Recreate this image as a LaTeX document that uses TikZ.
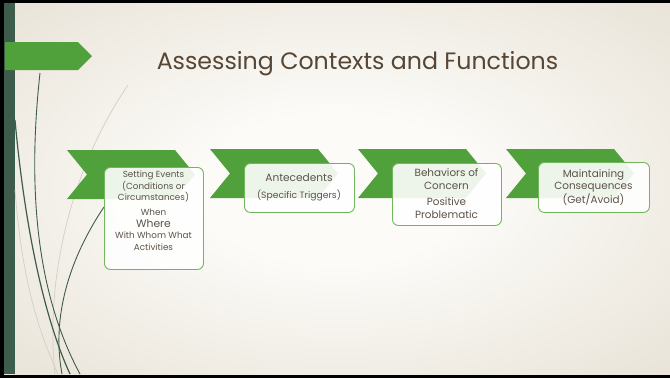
\documentclass[tikz,border=0pt]{standalone}
\usepackage{fontspec}
\setmainfont{Poppins}
\definecolor{bgout}{RGB}{222,214,198}
\definecolor{bgin}{RGB}{252,251,248}
\definecolor{barg}{RGB}{62,92,76}
\definecolor{chev}{RGB}{80,160,60}
\definecolor{boxline}{RGB}{112,182,92}
\definecolor{txt}{RGB}{92,82,72}
\definecolor{ttl}{RGB}{88,70,52}
\definecolor{faint}{RGB}{212,206,196}
\pgfdeclareradialshading{slidebg}{\pgfpoint{0bp}{0bp}}{color(0bp)=(bgin); color(10bp)=(bgin); color(50bp)=(bgout); color(72bp)=(bgout)}
\newcommand\chevronat[2]{\fill[chev] (#1,#2) -- ++(108,0) -- ++(20,24.5) -- ++(-20,24.5) -- ++(-108,0) -- ++(20,-24.5) -- cycle;}
\begin{document}
\begin{tikzpicture}[x=1pt,y=-1pt,
 card/.style={draw=boxline,line width=0.9pt,fill=white,fill opacity=0.9,rounded corners=6pt,inner sep=0pt,anchor=north west},
 cardtext/.style={text=txt,align=center,inner sep=0pt,anchor=north},
 small/.style={font=\fontsize{8.8}{11.5}\selectfont},
 big/.style={font=\fontsize{10.4}{12.4}\selectfont},
 stem/.style={draw=barg,line width=1.2pt},
 ghost/.style={draw=faint,line width=0.7pt}]
\useasboundingbox (0,0) rectangle (670,378);
\fill[black] (0,0) rectangle (670,378);
\shade[shading=slidebg] (4,3) rectangle (670,374);
\fill[barg] (4,3) rectangle (15,374);
% faint background curves
\draw[ghost] (128,85) .. controls (70,170) and (45,280) .. (55,374);
\draw[ghost] (15,190) .. controls (22,280) and (38,330) .. (58,374);
% dark curves
\draw[stem] (15,120) .. controls (25,230) and (45,320) .. (70,374);
\draw[stem, line width=0.9pt] (40,73) .. controls (26,200) and (40,300) .. (80,374);
\draw[stem, line width=0.9pt] (104,207) .. controls (75,250) and (50,310) .. (62,374);
% top marker
\fill[chev] (5,42) -- (78,42) -- (92,56) -- (78,70) -- (5,70) -- cycle;
\node[text=ttl,font=\fontsize{23.7}{28}\selectfont,inner sep=0pt] (title) at (357.5,64) {Assessing Contexts and Functions};
% chevrons
\chevronat{67}{150}
\chevronat{210}{149}
\chevronat{358}{149}
\chevronat{506}{149}
% cards
\node[card,minimum width=99pt,minimum height=102pt] (setting) at (104,167) {};
\node[card,minimum width=110pt,minimum height=49pt] (antecedents) at (244,163) {};
\node[card,minimum width=109pt,minimum height=62pt] (behaviors) at (392,163) {};
\node[card,minimum width=111pt,minimum height=50pt] (consequences) at (538,162) {};
% card texts
\node[cardtext,small] (settingtxt) at (153.5,171) {Setting Events\\(Conditions or\\Circumstances)\\[3.5pt]When\\{\fontsize{10.8}{11}\selectfont Where}\\With Whom What\\Activities};
\node[cardtext,font=\fontsize{10.6}{17}\selectfont] (antetxt) at (299,173.5) {Antecedents\\{\fontsize{9.2}{11}\selectfont (Specific Triggers)}};
\node[cardtext,big] (behavtxt) at (446.5,168.5) {Behaviors of\\Concern\\[4.5pt]Positive\\Problematic};
\node[cardtext,big] (constxt) at (593.5,169) {Maintaining\\Consequences\\(Get/Avoid)};
\end{tikzpicture}
\end{document}
